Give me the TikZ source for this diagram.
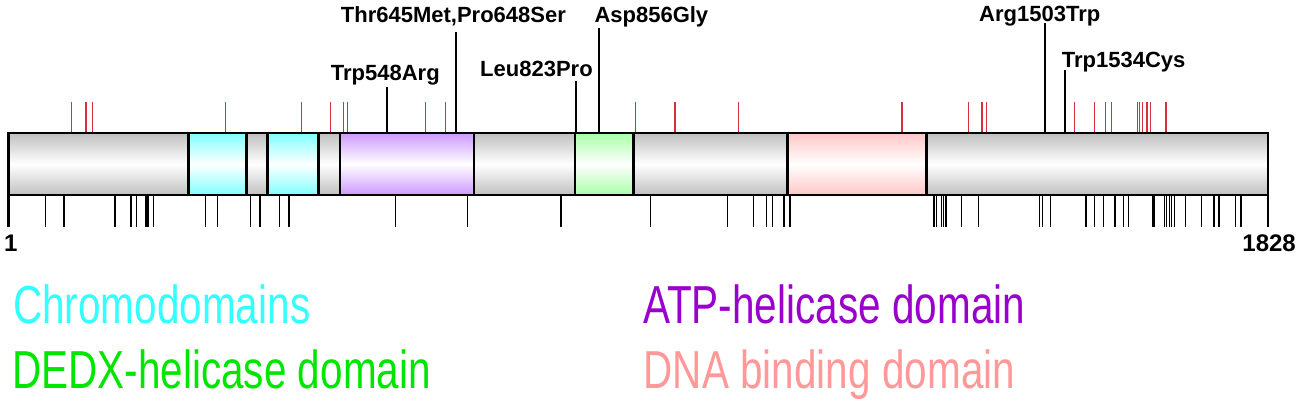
\documentclass[tikz,border=0pt]{standalone}
\usepackage{fontspec}
\setmainfont{Liberation Sans}
\usepackage{graphicx}
\definecolor{tickred}{HTML}{D6303C}
\definecolor{greytop}{HTML}{C0C0C0}
\definecolor{cyantop}{HTML}{7FFFFF}
\definecolor{purptop}{HTML}{CC99FF}
\definecolor{greentop}{HTML}{A8FFA8}
\definecolor{pinktop}{HTML}{FFC6C6}
\definecolor{legcyan}{HTML}{33FFFF}
\definecolor{leggreen}{HTML}{00E600}
\definecolor{legpurple}{HTML}{9900CC}
\definecolor{legpink}{HTML}{FF9999}
\tikzset{
  seg/.style={top color=#1, bottom color=#1, middle color=white},
  outline/.style={line width=2.5pt, black},
  redtick/.style={line width=1.2pt, tickred},
  blacktick/.style={line width=1.2pt, black},
  mutline/.style={line width=1.8pt, black},
  mutlabel/.style={anchor=base west, inner sep=0pt, font=\fontsize{22}{26}\selectfont\bfseries},
  endlabel/.style={inner sep=0pt, font=\fontsize{24}{28}\selectfont\bfseries},
  legend/.style={anchor=base west, inner sep=0pt, text=#1}
}
\newcommand{\legtext}[1]{\scalebox{0.757}[1]{\fontsize{53.5}{60}\selectfont #1}}
\begin{document}
\begin{tikzpicture}[x=1pt,y=-1pt]
\useasboundingbox (0,0) rectangle (1300,404);
% domain fills
\shade[seg=greytop] (8.3,133) rectangle (188.3,195);
\shade[seg=cyantop] (188.3,133) rectangle (246.7,195);
\shade[seg=greytop] (246.7,133) rectangle (267.7,195);
\shade[seg=cyantop] (267.7,133) rectangle (318.3,195);
\shade[seg=greytop] (318.3,133) rectangle (340,195);
\shade[seg=purptop] (340,133) rectangle (474,195);
\shade[seg=greytop] (474,133) rectangle (575,195);
\shade[seg=greentop] (575,133) rectangle (633.3,195);
\shade[seg=greytop] (633.3,133) rectangle (787.3,195);
\shade[seg=pinktop] (787.3,133) rectangle (926.7,195);
\shade[seg=greytop] (926.7,133) rectangle (1268,195);
% ticks above (red)
\foreach \x in {71.7,86,92.7,225.7,301.7,330.5,343.3,347.7,425.2,445.2,635.5,675,738.3,902,968.5,982,986.7,1074.2,1094.3,1105.7,1111.3,1137.2,1139.5,1142.8,1147,1150.8,1166}
  \draw[redtick] (\x,102) -- (\x,133);
% ticks below (black)
\foreach \x in {45.7,64,115,131,136.7,146,148,153.7,205.7,217.7,250.5,260,279.3,288.5,289.8,395.8,467.3,561,650.7,727.3,753.3,766.7,772.7,784,790,934,936.3,941.7,943.5,946,961.7,978.7,1039.6,1042.5,1050.8,1086,1094.3,1103.3,1114.3,1115,1123.3,1128.8,1152.8,1154,1164.5,1166.7,1169.2,1171.2,1174.5,1185.7,1201.7,1214,1219,1235.5,1241}
  \draw[blacktick] (\x,195) -- (\x,227);
% outline and dividers
\draw[outline] (8.3,227) -- (8.3,133) -- (1268,133) -- (1268,227);
\draw[outline] (8.3,195) -- (1268,195);
\foreach \x in {188.3,246.7,267.7,318.3,340,474,575,633.3,787.3,926.7}
  \draw[outline] (\x,133) -- (\x,195);
% mutation labels
\node[mutlabel] (m548) at (330.7,81) {Trp548Arg};
\node[mutlabel] (m645) at (340.7,22.5) {Thr645Met,Pro648Ser};
\node[mutlabel] (m823) at (480,77) {Leu823Pro};
\node[mutlabel] (m856) at (594.3,22.5) {Asp856Gly};
\node[mutlabel] (m1503) at (979,22) {Arg1503Trp};
\node[mutlabel] (m1534) at (1061.7,67.5) {Trp1534Cys};
\coordinate (t548) at (386.7,87.3);
\coordinate (t645) at (456,32);
\coordinate (t823) at (576,80.7);
\coordinate (t856) at (599,28);
\coordinate (t1503) at (1045,23.3);
\coordinate (t1534) at (1065,70);
\coordinate (b548) at (386.7,133);
\coordinate (b645) at (456,133);
\coordinate (b823) at (576,133);
\coordinate (b856) at (599,133);
\coordinate (b1503) at (1045,133);
\coordinate (b1534) at (1065,133);
\foreach \m in {548,645,823,856,1503,1534}
  \draw[mutline] (b\m) -- (t\m);
% end labels
\node[endlabel, anchor=base west] (one) at (4,251) {1};
\node[endlabel, anchor=base east] (last) at (1296,251) {1828};
% legend
\node[legend=legcyan] (lchromo) at (13,323.5) {\legtext{Chromodomains}};
\node[legend=leggreen] (ldedx) at (12,388.5) {\legtext{DEDX-helicase domain}};
\node[legend=legpurple] (latp) at (643,323.5) {\legtext{ATP-helicase domain}};
\node[legend=legpink] (ldna) at (643.5,388.5) {\legtext{DNA binding domain}};
\end{tikzpicture}
\end{document}
